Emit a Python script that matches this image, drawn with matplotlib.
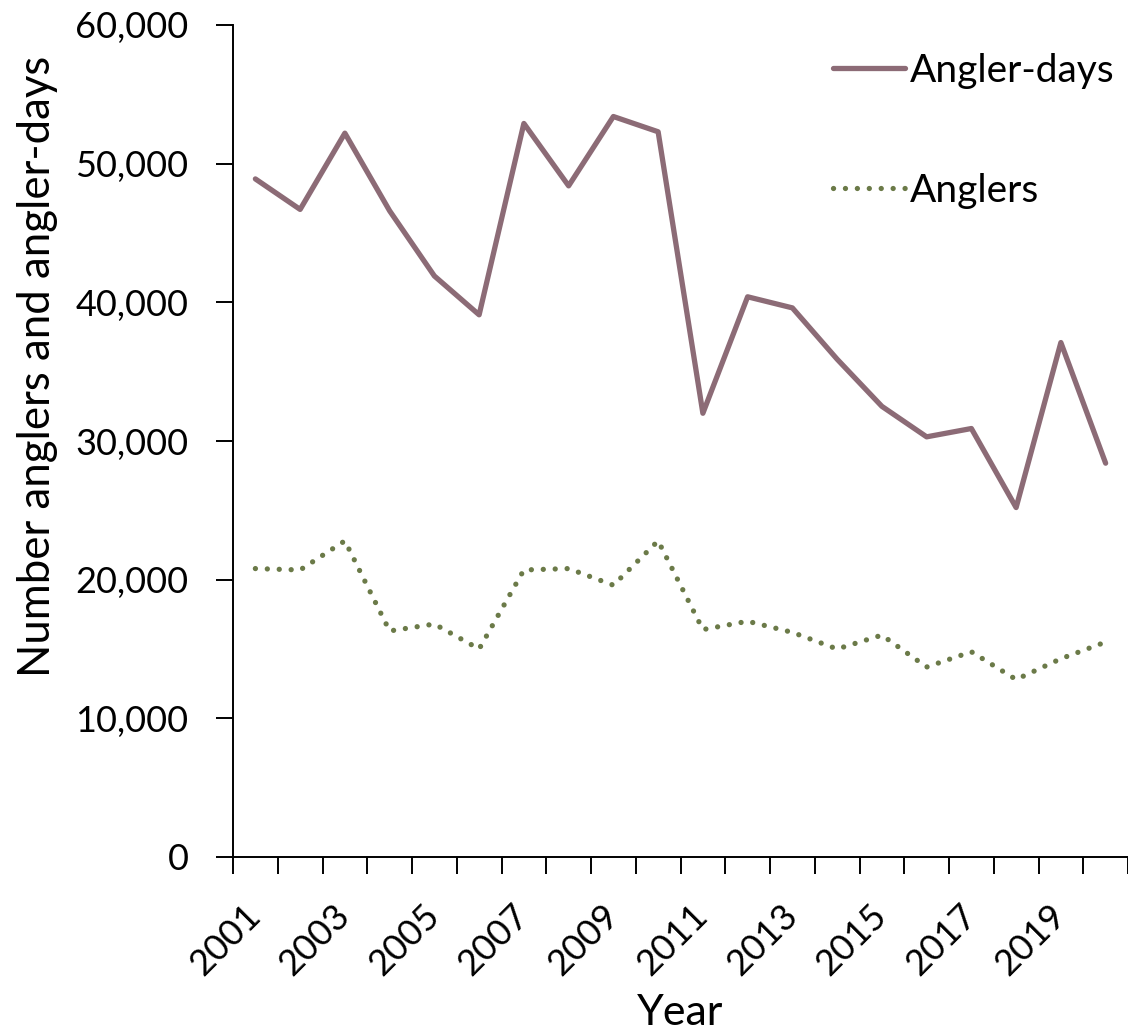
import numpy as np
import matplotlib.pyplot as plt
from matplotlib.ticker import FuncFormatter, FixedLocator
from matplotlib.transforms import ScaledTranslation

plt.rcParams['font.family'] = ['Lato', 'DejaVu Sans']

# Data
years = list(range(2001, 2021))
angler_days = [48900, 46700, 52200, 46600, 41900, 39100, 52900, 48400, 53400, 52300,
               32000, 40400, 39600, 35900, 32500, 30300, 30900, 25200, 37100, 28400]
anglers = [20800, 20700, 22800, 16300, 16800, 15000, 20700, 20800, 19600, 22800,
           16400, 17000, 16200, 15000, 16000, 13700, 14800, 12800, 14300, 15500]

days_color = '#8C6B76'
anglers_color = '#6B7A48'

fig = plt.figure(figsize=(11.28, 10.34), dpi=100)
ax = fig.add_axes([233 / 1128, 1 - 857 / 1034, 895 / 1128, 832 / 1034])

x = np.arange(len(years))
ax.plot(x, angler_days, color=days_color, lw=3.8, solid_joinstyle='round',
        solid_capstyle='round', label='Angler-days')
ax.plot(x, anglers, color=anglers_color, lw=3.8, linestyle=(0, (0.01, 2.25)),
        dash_capstyle='round', label='Anglers')

ax.set_xlim(-0.5, len(years) - 0.5)
ax.set_ylim(0, 60000)

# y axis
ax.set_yticks(np.arange(0, 60001, 10000))
ax.yaxis.set_major_formatter(FuncFormatter(lambda v, p: f'{int(v):,}'))
ax.tick_params(axis='y', direction='out', length=12, width=1.4, pad=20, labelsize=26)

# x axis: boundary ticks as minor, labels at every other category centre
ax.xaxis.set_minor_locator(FixedLocator(np.arange(-0.5, len(years), 1.0)))
ax.set_xticks(x[::2])
ax.set_xticklabels([str(y) for y in years[::2]], rotation=45, ha='right')
ax.tick_params(axis='x', which='major', length=0, pad=30, labelsize=26)
ax.tick_params(axis='x', which='minor', direction='out', length=12, width=1.4)
for lab in ax.get_xticklabels():
    lab.set_transform(lab.get_transform() + ScaledTranslation(8 / 72, 0, fig.dpi_scale_trans))

for side in ['top', 'right']:
    ax.spines[side].set_visible(False)
for side in ['left', 'bottom']:
    ax.spines[side].set_linewidth(1.4)

ax.set_xlabel('Year', fontsize=31, labelpad=9)
ax.set_ylabel('Number anglers and angler-days', fontsize=31.5)
ax.yaxis.set_label_coords(-0.195, 0.59)

leg = ax.legend(loc='upper left', bbox_to_anchor=(833 / 1128, 1 - 53 / 1034),
                bbox_transform=fig.transFigure, frameon=False, fontsize=28,
                handlelength=1.85, handletextpad=0.12, labelspacing=2.15,
                borderpad=0, borderaxespad=0)

fig.savefig('out.png', dpi=100)
